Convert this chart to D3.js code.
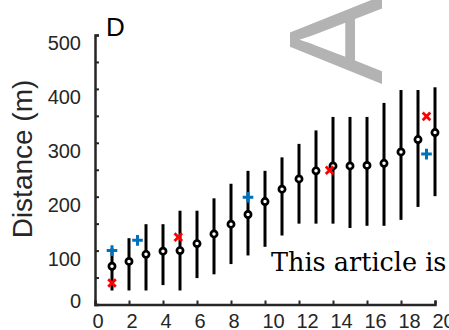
<!DOCTYPE html>
<html>
<head>
<meta charset="utf-8">
<script src="https://cdn.jsdelivr.net/npm/d3@7"></script>
<style>
    body { margin: 0; background: #fff; }
    svg { display: block; }
    .tick text { font-family: "Liberation Sans", Arial, sans-serif; font-size: 20px; fill: #262626; }
</style>
</head>
<body>
<div class="chart"></div>
<script>
// data
var xValues = d3.range(1, 21);
var meanValues = [71, 80, 93, 99, 100, 113, 131, 149, 167, 191, 214, 233, 248, 257, 257, 258, 262, 283, 306, 319];
var upperValues = [104, 123, 149, 149, 174, 174, 197, 224, 248, 248, 273, 298, 323, 348, 348, 348, 374, 398, 398, 403];
var lowerValues = [26, 26, 26, 36, 26, 49, 56, 75, 91, 107, 128, 150, 150, 150, 142, 146, 146, 157, 181, 201];

// red crosses and blue pluses
var crossX = [1, 4.9, 13.8, 19.5];
var crossY = [40, 125, 249, 349];
var plusX = [1, 2.5, 9, 19.5];
var plusY = [100, 119, 199, 279];

var xTicks = d3.range(0, 21, 2);
var yTicks = d3.range(0, 501, 50);
var yLabels = [0, 100, 200, 300, 400, 500];

var svgWidth = 449;
var svgHeight = 330;

var svg = d3.select(".chart")
    .append("svg")
    .attr("width", svgWidth)
    .attr("height", svgHeight);

// scales
var xScale = d3.scaleLinear().domain([0, 20]).range([95, 435]);
var yScale = d3.scaleLinear().domain([0, 500]).range([304.5, 35]);

// watermark letter
svg.append("text")
    .attr("transform", "translate(382, 40) rotate(-90)")
    .attr("text-anchor", "middle")
    .attr("font-family", "Liberation Sans, Arial, sans-serif")
    .attr("font-size", 133)
    .attr("fill", "#b3b3b3")
    .text("A");

// axes
var bottomAxis = d3.axisBottom(xScale)
    .tickValues(xTicks)
    .tickSize(-4)
    .tickPadding(9);

var leftAxis = d3.axisLeft(yScale)
    .tickValues(yTicks)
    .tickSize(-4)
    .tickPadding(14)
    .tickFormat(d => yLabels.indexOf(d) >= 0 ? d : "");

var xAxisGroup = svg.append("g")
    .attr("transform", `translate(0, ${yScale(0)})`)
    .call(bottomAxis);

var yAxisGroup = svg.append("g")
    .attr("transform", `translate(${xScale(0)}, 0)`)
    .call(leftAxis);

[xAxisGroup, yAxisGroup].forEach(function (g) {
    g.select(".domain").attr("stroke", "#262626").attr("stroke-width", 2.5);
    g.selectAll(".tick line").attr("stroke", "#262626").attr("stroke-width", 2);
});

// x labels sit a bit to the right of their ticks
xAxisGroup.selectAll(".tick text")
    .attr("text-anchor", "start")
    .attr("x", -3);

// y labels hang below their ticks
yAxisGroup.selectAll(".tick text")
    .attr("dy", d => d === 0 ? "0.16em" : "0.72em");

// axis label
svg.append("text")
    .attr("transform", "translate(32, 159) rotate(-90)")
    .attr("text-anchor", "middle")
    .attr("font-family", "Liberation Sans, Arial, sans-serif")
    .attr("font-size", 28)
    .attr("fill", "#262626")
    .text("Distance (m)");

// panel letter
svg.append("text")
    .attr("x", 106)
    .attr("y", 36)
    .attr("font-family", "Liberation Sans, Arial, sans-serif")
    .attr("font-size", 26)
    .attr("fill", "#000")
    .text("D");

// error bars
svg.append("g").selectAll("line")
    .data(xValues)
    .enter()
    .append("line")
    .attr("x1", (d, i) => xScale(d))
    .attr("x2", (d, i) => xScale(d))
    .attr("y1", (d, i) => yScale(lowerValues[i]))
    .attr("y2", (d, i) => yScale(upperValues[i]))
    .attr("stroke", "#000")
    .attr("stroke-width", 3);

// means
svg.append("g").selectAll("circle")
    .data(xValues)
    .enter()
    .append("circle")
    .attr("cx", d => xScale(d))
    .attr("cy", (d, i) => yScale(meanValues[i]))
    .attr("r", 3.1)
    .attr("fill", "#fff")
    .attr("stroke", "#000")
    .attr("stroke-width", 2.7);

// red crosses
var s = 3.8;
svg.append("g").selectAll("path")
    .data(crossX)
    .enter()
    .append("path")
    .attr("d", function (d, i) {
        var cx = xScale(d), cy = yScale(crossY[i]);
        return `M${cx - s},${cy - s}L${cx + s},${cy + s}M${cx - s},${cy + s}L${cx + s},${cy - s}`;
    })
    .attr("stroke", "#ff0000")
    .attr("stroke-width", 2.8)
    .attr("fill", "none");

// blue pluses
var p = 5.3;
svg.append("g").selectAll("path")
    .data(plusX)
    .enter()
    .append("path")
    .attr("d", function (d, i) {
        var cx = xScale(d), cy = yScale(plusY[i]);
        return `M${cx - p},${cy}L${cx + p},${cy}M${cx},${cy - p}L${cx},${cy + p}`;
    })
    .attr("stroke", "#0072bd")
    .attr("stroke-width", 3)
    .attr("fill", "none");

// watermark text
svg.append("text")
    .attr("x", 271)
    .attr("y", 271)
    .attr("font-family", "DejaVu Serif, serif")
    .attr("font-size", 25.5)
    .attr("fill", "#000")
    .text("This article is");
</script>
</body>
</html>
